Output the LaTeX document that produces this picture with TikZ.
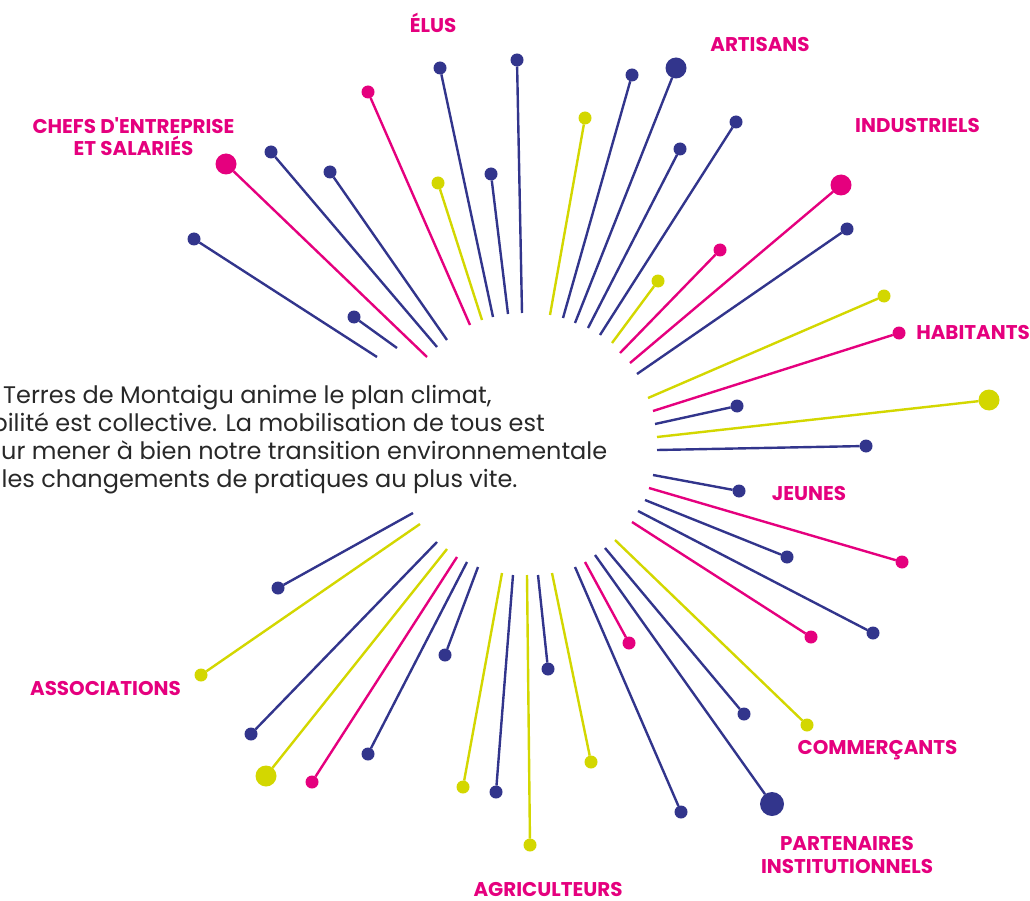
\documentclass[tikz,border=0pt]{standalone}
\usepackage{fontspec}
\setmainfont{Poppins}
\newfontfamily\labfam{Poppins}
\definecolor{cpink}{RGB}{229,0,126}
\definecolor{cblue}{RGB}{50,53,140}
\definecolor{cyel}{RGB}{211,215,0}
\definecolor{ctext}{RGB}{40,40,40}
\newlength\mywidth
\begin{document}
\settowidth\mywidth{\fontsize{10pt}{12pt}\selectfont ur mener à bien notre transition environnementale}%
\pgfmathsetmacro\bodysz{10*606/\mywidth}%
\settowidth\mywidth{\fontsize{10pt}{12pt}\selectfont\labfam\bfseries INSTITUTIONNELS}%
\pgfmathsetmacro\labsz{10*172/\mywidth}%
\def\bodyfont{\fontsize{\bodysz pt}{28.5pt}\selectfont}%
\def\labfont{\fontsize{\labsz pt}{22.5pt}\selectfont\labfam\bfseries}%
\begin{tikzpicture}[x=1pt,y=-1pt,
  ray/.style={line width=2.4pt},
  dotnode/.style={circle, inner sep=0pt, outer sep=0pt, minimum size=#1},
  lab/.style={text=cpink, font=\labfont, align=center, inner sep=0pt, anchor=base},
  body/.style={text=ctext, font=\bodyfont, inner sep=0pt, anchor=base west}]
\useasboundingbox (0,0) rectangle (1030,901);
\foreach \i/\ax/\ay/\bx/\by/\c/\d in {
 1/377/357/194/239/cblue/13,
 2/397/348/354/317/cblue/13,
 3/427/357/226/164/cpink/21,
 4/437/347/271/152/cblue/13,
 5/447/340/330/172/cblue/13,
 6/470/325/368/92/cpink/13,
 7/482/320/438/183/cyel/13,
 8/493/317/440/68/cblue/13,
 9/508/314/491/174/cblue/13,
 10/522/313/517/60/cblue/13,
 11/550/315/585/118/cyel/13,
 12/563/318/632/75/cblue/13,
 13/575/323/676/68/cblue/21,
 14/588/328/680/149/cblue/13,
 15/600/335/736/122/cblue/13,
 16/612/343/658/281/cyel/13,
 17/620/353/720/250/cpink/13,
 18/630/363/841/185/cpink/21,
 19/637/374/847/229/cblue/13,
 20/648/398/884/296/cyel/13,
 21/653/411/899/333/cpink/13,
 22/655/424/737/406/cblue/13,
 23/657/437/989/400/cyel/21,
 24/657/450/866/446/cblue/13,
 25/653/475/739/491/cblue/13,
 26/649/488/902/562/cpink/13,
 27/645/500/787/557/cblue/13,
 28/638/511/873/633/cblue/13,
 29/632/522/811/637/cpink/13,
 30/615/540/807/725/cyel/13,
 31/605/548/744/714/cblue/13,
 32/595/555/772/804/cblue/24,
 33/585/562/629/643/cpink/13,
 34/575/567/681/812/cblue/13,
 35/552/573/591/762/cyel/13,
 36/538/575/548/669/cblue/13,
 37/527/575/530/845/cyel/13,
 38/513/575/496/792/cblue/13,
 39/502/573/463/787/cyel/13,
 40/478/567/445/655/cblue/13,
 41/467/562/368/754/cblue/13,
 42/457/557/312/782/cpink/13,
 43/447/549/266/776/cyel/21,
 44/437/542/251/734/cblue/13,
 45/420/524/201/675/cyel/13,
 46/413/513/278/588/cblue/13}{
  \coordinate (in\i) at (\ax,\ay);
  \node[dotnode=\d pt, fill=\c] (dot\i) at (\bx,\by) {};
  \draw[ray, draw=\c] (in\i) -- (dot\i);
}
% labels
\node[lab] (elus) at (433,33) {ÉLUS};
\node[lab] (artisans) at (760,52) {ARTISANS};
\node[lab] (industriels) at (917.5,133) {INDUSTRIELS};
\node[lab] (chefs) at (133.5,156) {CHEFS D'ENTREPRISE\\ET SALARIÉS};
\node[lab] (habitants) at (973,339) {HABITANTS};
\node[lab] (jeunes) at (809,500) {JEUNES};
\node[lab] (assoc) at (105.5,695) {ASSOCIATIONS};
\node[lab] (agri) at (548,896) {AGRICULTEURS};
\node[lab] (comm) at (877.5,754) {COMMERÇANTS};
\node[lab] (part) at (847,873) {PARTENAIRES\\INSTITUTIONNELS};
% body text
\node[body] (t1) at (3,403) {Terres de Montaigu anime le plan climat,};
\node[body, anchor=base east] (t2) at (545,431) {bilité est collective. La mobilisation de tous est};
\node[body] (t3) at (1,459) {ur mener à bien notre transition environnementale};
\node[body] (t4) at (1.5,487) {les changements de pratiques au plus vite.};
\end{tikzpicture}
\end{document}
